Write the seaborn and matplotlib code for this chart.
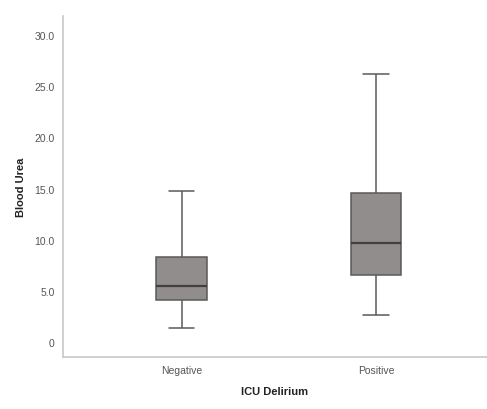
import numpy as np
import pandas as pd
import seaborn as sns
import matplotlib.pyplot as plt

# ------------------------------------------------------------
# Five-number summaries
# ------------------------------------------------------------
groups = ["Negative", "Positive"]
whisker_low = [1.4, 2.6]
q1 = [4.1, 6.5]
median = [5.5, 9.7]
q3 = [8.3, 14.6]
whisker_high = [14.8, 26.2]

yticks = [0, 5, 10, 15, 20, 25, 30]
ytick_labels = ["0", "5.0", "10.0", "15.0", "20.0", "25.0", "30.0"]

rows = []
for i, g in enumerate(groups):
    for v in (whisker_low[i], q1[i], median[i], q3[i], whisker_high[i]):
        rows.append({"ICU Delirium": g, "Blood Urea": v})
df = pd.DataFrame(rows)

# ------------------------------------------------------------
# Plot
# ------------------------------------------------------------
sns.set_style("white")
plt.rcParams["font.family"] = ["Liberation Sans", "DejaVu Sans"]

fig = plt.figure(figsize=(4.87, 4.10), dpi=100)
ax = fig.add_axes([0.129, 0.127, 0.871, 0.832])

line_col = "#5a5a5a"
sns.boxplot(data=df, x="ICU Delirium", y="Blood Urea", order=groups,
            whis=(0, 100), width=0.26, color="#918d8d", saturation=1,
            linecolor=line_col, linewidth=1.1, ax=ax,
            medianprops={"color": "#404040", "linewidth": 1.6})

ax.set_xlim(-0.61, 1.57)
ax.set_ylim(-1.47, 31.9)
ax.set_yticks(yticks)
ax.set_yticklabels(ytick_labels)
ax.tick_params(axis="both", length=0, labelsize=7.5, colors="#555555")
ax.tick_params(axis="y", pad=6)
ax.tick_params(axis="x", pad=6)

for side in ["top", "right"]:
    ax.spines[side].set_visible(False)
for side in ["left", "bottom"]:
    ax.spines[side].set_color("#c8c8c8")
    ax.spines[side].set_linewidth(1.2)

ax.set_xlabel("ICU Delirium", fontsize=8, fontweight="bold", color="#222222", labelpad=8)
ax.set_ylabel("Blood Urea", fontsize=8, fontweight="bold", color="#222222", labelpad=6)

fig.savefig("out.png", dpi=100)
